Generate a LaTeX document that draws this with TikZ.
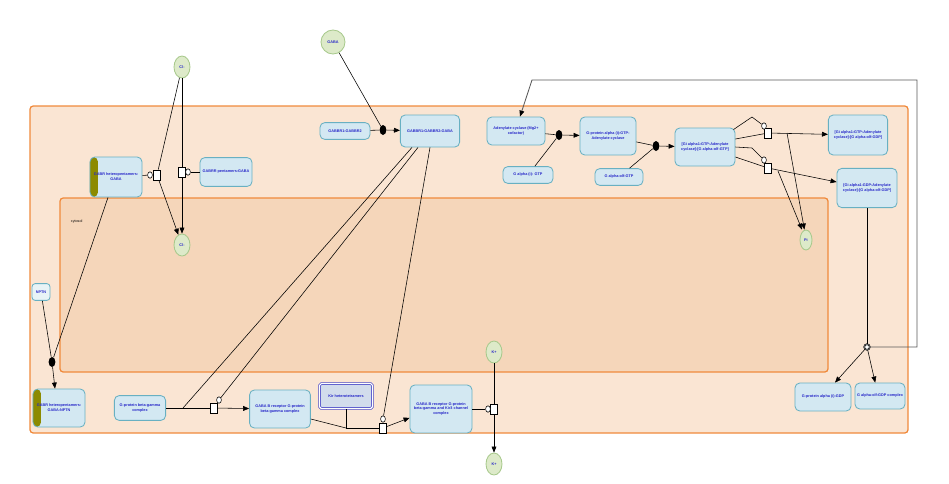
\documentclass[tikz,border=0pt]{standalone}
\usepackage{fontspec}
\setmainfont{Liberation Sans}
\usetikzlibrary{arrows.meta,shapes.geometric}

\definecolor{outerfill}{HTML}{FAE5D3}
\definecolor{innerfill}{HTML}{F5D6BA}
\definecolor{compedge}{HTML}{F08A3C}
\definecolor{nodefill}{HTML}{D3E8F2}
\definecolor{nodeedge}{HTML}{68B0C2}
\definecolor{chemfill}{HTML}{DDEAC9}
\definecolor{chemedge}{HTML}{A8C98C}
\definecolor{labelblue}{HTML}{2626C8}
\definecolor{stripeolive}{HTML}{8C8A00}
\definecolor{kiredge}{HTML}{4C4CC8}
\definecolor{kirfill}{HTML}{D2DCEC}

\begin{document}
\begin{tikzpicture}[x=0.025cm, y=-0.025cm,
    font=\fontsize{2.7}{3.4}\selectfont\bfseries,
    entity/.style={draw=nodeedge, fill=nodefill, line width=0.6pt, rounded corners=1.2mm,
        text=labelblue, align=center, inner sep=0.5pt},
    gabrstripe/.style={path picture={\fill[stripeolive] (path picture bounding box.south west)
        rectangle ([xshift=2mm]path picture bounding box.north west);}},
    chem/.style={ellipse, draw=chemedge, fill=chemfill, line width=0.6pt, text=labelblue,
        minimum width=0.4cm, minimum height=0.55cm, inner sep=0pt},
    procbox/.style={draw=black, fill=white, minimum width=0.18cm, minimum height=0.26cm, inner sep=0pt},
    modcirc/.style={ellipse, draw=black, fill=white, minimum width=0.12cm, minimum height=0.16cm, inner sep=0pt},
    assoc/.style={ellipse, fill=black, minimum width=0.17cm, minimum height=0.25cm, inner sep=0pt},
    dissoc/.style={circle, draw=black, fill=white, double=black!40, double distance=0.3pt, minimum size=0.14cm, inner sep=0pt},
    react/.style={-{Triangle[length=1.5mm,width=1.2mm,black]}}]

    \useasboundingbox (0,0) rectangle (949,483);

    % 区室
    \draw[draw=compedge, fill=outerfill, line width=0.9pt, rounded corners=0.8mm] (30,106) rectangle (908,433);
    \draw[draw=compedge, fill=innerfill, line width=0.9pt, rounded corners=0.8mm] (60,198) rectangle (828,372);
    \node[anchor=west, text=black, font=\fontsize{2.6}{3}\selectfont] (cyto) at (66,222) {cytosol};

    % 物种
    \node[entity, gabrstripe, minimum width=1.3cm, minimum height=1cm] (gabrG) at (116,177) {GABR heteropentamers:\\GABA};
    \node[entity, minimum width=1.3cm, minimum height=0.72cm] (gabrr) at (226,172) {GABRR pentamers:GABA};
    \node[chem] (clout) at (182,67) {Cl-};
    \node[chem] (clin) at (182,245) {Cl-};
    \node[chem, circle, minimum size=0.6cm] (gaba) at (333,42) {GABA};
    \node[entity, minimum width=1.25cm, minimum height=0.42cm] (gabbr) at (345,131) {GABBR1:GABBR2};
    \node[entity, minimum width=1.48cm, minimum height=0.8cm] (gabbrG) at (430,131) {GABBR1:GABBR2:GABA};
    \node[entity, minimum width=1.45cm, minimum height=0.7cm] (adcy) at (516,131) {Adenylate cyclase (Mg2+\\cofactor)};
    \node[entity, minimum width=1.25cm, minimum height=0.42cm] (gaiGTP) at (528,175) {G alpha (i): GTP};
    \node[entity, minimum width=1.4cm, minimum height=0.95cm] (gaiAC) at (608,136) {G-protein alpha (i):GTP:\\Adenylate cyclase};
    \node[entity, minimum width=1.2cm, minimum height=0.42cm] (golfGTP) at (619,177) {G alpha-olf:GTP};
    \node[entity, minimum width=1.5cm, minimum height=0.95cm] (trimGTP) at (705,147) {[Gi alpha1:GTP:Adenylate\\cyclase]:[G alpha-olf:GTP]};
    \node[entity, minimum width=1.48cm, minimum height=1cm] (trimOlfGDP) at (858,135) {[Gi alpha1:GTP:Adenylate\\cyclase]:[G alpha-olf:GDP]};
    \node[entity, minimum width=1.5cm, minimum height=0.98cm] (trimGDP) at (867,188) {[Gi alpha1:GDP:Adenylate\\cyclase]:[G alpha-olf:GDP]};
    \node[chem, minimum width=0.3cm, minimum height=0.5cm] (pi) at (806,240) {Pi};
    \node[entity, fill=nodefill!85!teal!30, minimum width=0.45cm, minimum height=0.42cm, rounded corners=0.8mm] (nptn) at (41,292) {NPTN};
    \node[entity, gabrstripe, minimum width=1.3cm, minimum height=0.95cm] (gabrN) at (59,408) {GABR heteropentamers:\\GABA:NPTN};
    \node[entity, minimum width=1.28cm, minimum height=0.62cm] (gbg) at (140,408) {G-protein beta-gamma\\complex};
    \node[entity, minimum width=1.52cm, minimum height=0.95cm] (gbbg) at (280,409) {GABA B receptor G-protein\\beta-gamma complex};
    \node[entity, draw=kiredge, fill=kirfill, double=white, double distance=0.8pt, line width=0.5pt,
        rounded corners=0.4mm, minimum width=1.32cm, minimum height=0.62cm] (kir) at (346,396) {Kir heterotetramers};
    \node[entity, minimum width=1.55cm, minimum height=1.2cm] (kir3) at (441,409) {GABA B receptor G-protein\\beta-gamma and Kir3 channel\\complex};
    \node[chem] (kout) at (494,352) {K+};
    \node[chem] (kin) at (494,464) {K+};
    \node[entity, minimum width=1.4cm, minimum height=0.7cm] (gaiGDP) at (823,397) {G-protein alpha (i):GDP};
    \node[entity, minimum width=1.25cm, minimum height=0.65cm] (golfGDP) at (880,396) {G alpha-olf:GDP complex};

    % 反应节点
    \node[procbox] (p1) at (157,175) {};
    \node[modcirc] (m1) at (150,175) {};
    \node[procbox] (p2) at (182,172) {};
    \node[modcirc] (m2) at (188,172) {};
    \node[assoc] (d1) at (383,130) {};
    \node[procbox] (p3) at (214,408) {};
    \node[modcirc] (m3) at (219,400) {};
    \node[procbox] (p4) at (383,428) {};
    \node[modcirc] (m4) at (383,419) {};
    \node[procbox] (p5) at (494,409) {};
    \node[modcirc] (m5) at (488,409) {};
    \node[assoc] (d2) at (559,135) {};
    \node[assoc] (d3) at (656,146) {};
    \node[procbox] (p6) at (768,133) {};
    \node[modcirc] (m6) at (764,126) {};
    \node[procbox] (p7) at (768,168) {};
    \node[modcirc] (m7) at (764,160) {};
    \node[dissoc] (d4) at (867,347) {};
    \node[assoc] (d5) at (52,362) {};

    \coordinate (j3) at (183,408);
    \coordinate (j4) at (346,428);
    \coordinate (k6) at (752,117);
    \coordinate (k7) at (752,148);
    \coordinate (o6) at (787,133);
    \coordinate (o7) at (778,171);
    \coordinate (c1) at (917,347);
    \coordinate (c2) at (917,80);
    \coordinate (c3) at (532,80);

    % Cl- 转运
    \draw (clout) -- (p1);
    \draw[react] (p1) -- (clin);
    \draw (gabrG) -- (m1);
    \draw (clout) -- (p2);
    \draw[react] (p2) -- (clin);
    \draw (gabrr) -- (m2);

    % GABA 结合
    \draw (gaba) -- (d1);
    \draw (gabbr) -- (d1);
    \draw[react] (d1) -- (gabbrG);

    % G 蛋白 beta-gamma
    \draw (gbg) -- (j3) -- (p3);
    \draw[react] (p3) -- (gbbg);
    \draw ([xshift=-0.45cm]gabbrG.south) -- (j3);
    \draw ([xshift=-0.3cm]gabbrG.south) -- (m3);

    % Kir3 通道
    \draw ([yshift=-0.25cm]gbbg.east) -- (j4);
    \draw (kir) -- (j4);
    \draw (j4) -- (p4);
    \draw[react] (p4) -- ([yshift=-0.22cm]kir3.west);
    \draw (gabbrG.south) -- (m4);

    % K+ 转运
    \draw (kout) -- (p5);
    \draw[react] (p5) -- (kin);
    \draw (kir3) -- (m5);

    % 腺苷酸环化酶
    \draw (adcy) -- (d2);
    \draw (gaiGTP) -- (d2);
    \draw[react] (d2) -- (gaiAC);
    \draw (gaiAC) -- (d3);
    \draw (golfGTP) -- (d3);
    \draw[react] (d3) -- (trimGTP);

    % GTP 水解
    \draw ([yshift=0.2cm]trimGTP.east) -- (p6);
    \draw[react] (p6) -- (trimOlfGDP);
    \draw ([shift={(-0.05cm,-0.05cm)}]trimGTP.north east) -- (k6) -- (m6);
    \draw[react] (o6) -- ([xshift=-0.04cm]pi.north);
    \draw ([yshift=-0.25cm]trimGTP.east) -- (p7);
    \draw[react] (p7) -- ([yshift=0.15cm]trimGDP.west);
    \draw (trimGTP.east) -- (k7) -- (m7);
    \draw[react] (o7) -- ([xshift=-0.1cm]pi.north);

    % 解离
    \draw (trimGDP) -- (d4);
    \draw[react] (d4) -- ([xshift=0.3cm]gaiGDP.north);
    \draw[react] (d4) -- ([xshift=-0.12cm]golfGDP.north);
    \draw[react, draw=black!65, line width=0.6pt] (d4) -- (c1) -- (c2) -- (c3) -- ([xshift=0.1cm]adcy.north);

    % NPTN
    \draw (nptn) -- (d5);
    \draw ([xshift=-0.2cm]gabrG.south) -- (d5);
    \draw[react] (d5) -- ([xshift=-0.1cm]gabrN.north);
\end{tikzpicture}
\end{document}
